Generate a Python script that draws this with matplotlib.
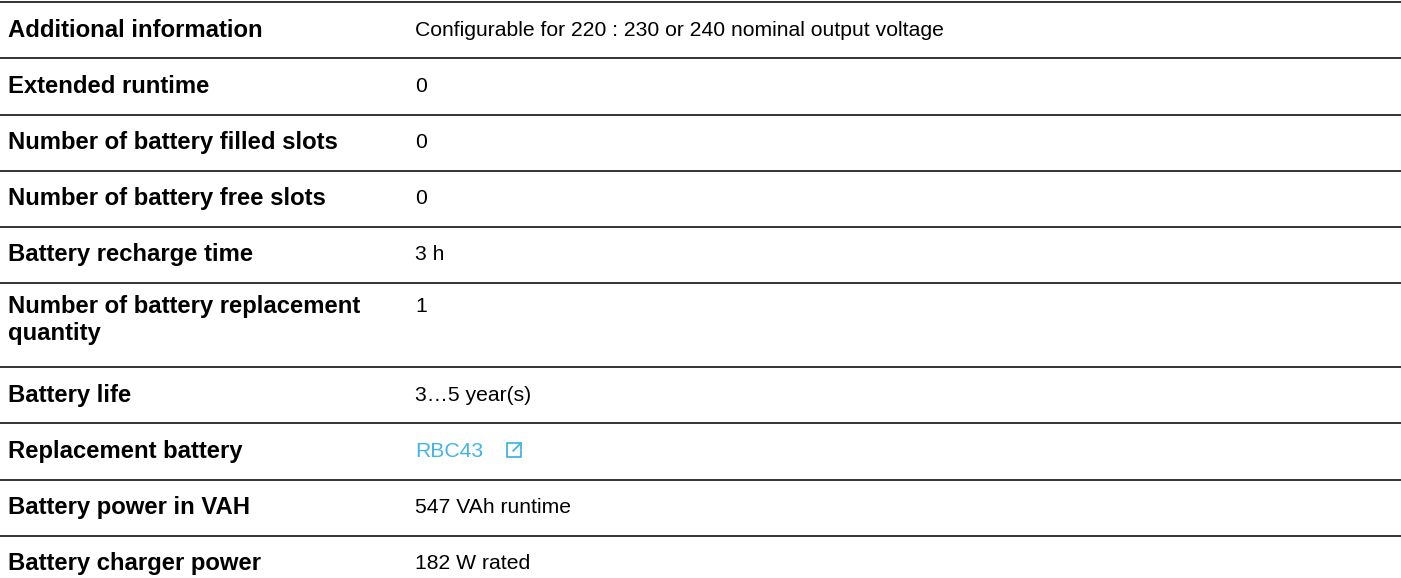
import matplotlib.pyplot as plt
from matplotlib.lines import Line2D

labels = ['Additional information', 'Extended runtime', 'Number of battery filled slots',
          'Number of battery free slots', 'Battery recharge time',
          'Number of battery replacement\nquantity', 'Battery life', 'Replacement battery',
          'Battery power in VAH', 'Battery charger power']
values = ['Configurable for 220 : 230 or 240 nominal output voltage', '0', '0', '0', '3 h', '1',
          '3\u20265 year(s)', 'RBC43', '547 VAh runtime', '182 W rated']
link_rows = [7]

# row separators (pixel y) and text baselines
line_y = [1.5, 58, 114.5, 171, 227, 283, 367, 423, 479.5, 536]
base_y = [37, 93, 149, 205, 261, 313, 402, 458, 514, 570]

W, H = 1401, 578
fig = plt.figure(figsize=(W / 100, H / 100), dpi=100)
ax = fig.add_axes([0, 0, 1, 1])
ax.set_xlim(0, W)
ax.set_ylim(H, 0)
ax.axis('off')

plt.rcParams['font.family'] = ['Liberation Sans', 'DejaVu Sans']
LAB_FS = 17.2
VAL_FS = 15.2
link_c = '#42b4e6'

for y in line_y:
    ax.axhline(y, color='#333333', lw=1.4)

for i, (lab, val) in enumerate(zip(labels, values)):
    by = base_y[i]
    for k, part in enumerate(lab.split('\n')):
        ax.text(8, by + 27 * k, part, fontsize=LAB_FS, fontweight='bold', va='baseline',
                ha='left', color='#000000')
    col = link_c if i in link_rows else '#000000'
    ax.text(415, by - 1, val, fontsize=VAL_FS, va='baseline', ha='left', color=col)
    if i in link_rows:
        # external link icon
        x0, y0, s = 507, by - 15, 14
        ax.add_line(Line2D([x0 + s * 0.45, x0, x0, x0 + s, x0 + s],
                           [y0, y0, y0 + s, y0 + s, y0 + s * 0.55], color=link_c, lw=1.3))
        ax.add_line(Line2D([x0 + s * 0.45, x0 + s], [y0 + s * 0.55, y0], color=link_c, lw=1.3))
        ax.add_line(Line2D([x0 + s * 0.6, x0 + s, x0 + s], [y0, y0, y0 + s * 0.4],
                           color=link_c, lw=1.3))

fig.savefig('out.png', dpi=100)
